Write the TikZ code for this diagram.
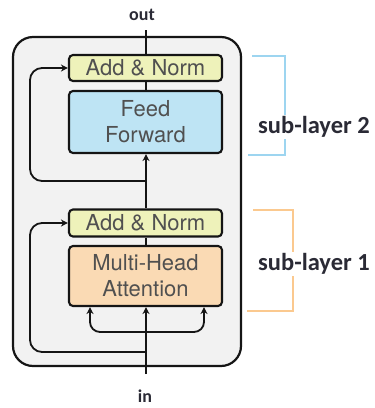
\documentclass[tikz,border=0pt]{standalone}
\usepackage{fontspec}
\setmainfont{TeX Gyre Heros}
\newfontfamily\labfont{Carlito}
\usetikzlibrary{arrows.meta}
\definecolor{bgray}{HTML}{F2F2F2}
\definecolor{anyellow}{HTML}{EEF2BA}
\definecolor{ffblue}{HTML}{BEE4F4}
\definecolor{mhapeach}{HTML}{FADAB4}
\definecolor{brblue}{HTML}{9DD5F0}
\definecolor{brorange}{HTML}{FBC98F}
\definecolor{boxtext}{HTML}{505050}
\definecolor{labtext}{HTML}{2A2A35}
\definecolor{linec}{HTML}{151515}
\tikzset{
  blk/.style={draw=linec, line width=2.1pt, rounded corners=4pt, minimum width=153pt,
    inner sep=0pt, align=center, text=boxtext, font=\fontsize{22}{26}\selectfont},
  conn/.style={draw=linec, line width=1.8pt},
  arr/.style={conn, -{Stealth[length=7pt,width=7pt]}},
  lab/.style={font=\labfont\bfseries\fontsize{24.5}{28}\selectfont, text=labtext, fill=white, inner sep=1pt},
  io/.style={font=\labfont\bfseries\fontsize{18}{20}\selectfont, text=labtext, inner sep=0pt}
}
\begin{document}
\begin{tikzpicture}[x=1pt,y=-1pt]
\useasboundingbox (0,0) rectangle (375,408);
% outer box
\draw[fill=bgray, draw=linec, line width=2.2pt, rounded corners=20pt] (13,37) rectangle (241,366);
% blocks
\node[blk, fill=anyellow, minimum height=26pt] (an2) at (145.5,68) {Add \& Norm};
\node[blk, fill=ffblue, minimum height=62pt] (ff) at (145.5,122) {Feed\\Forward};
\node[blk, fill=anyellow, minimum height=27pt] (an1) at (145.5,223) {Add \& Norm};
\node[blk, fill=mhapeach, minimum height=60pt] (mha) at (145.5,276) {Multi-Head\\Attention};
% in / out
\node[io] (out) at (142,15) {out};
\node[io] (in) at (145,396) {in};
\coordinate (top) at (146,30);
\coordinate (bot) at (146,374);
\coordinate (s2) at (146,181);
\coordinate (s1) at (146,352);
\coordinate (br) at (146,332);
% main path
\draw[arr] (bot) -- (mha.south -| bot);
\draw[conn] (mha.north -| bot) -- (an1.south -| bot);
\draw[arr] (an1.north -| bot) -- (ff.south -| bot);
\draw[conn] (ff.north -| bot) -- (an2.south -| bot);
\draw[conn] (an2.north -| bot) -- (top);
% skips
\draw[arr, rounded corners=12pt] (s2) -- (30,181) -- (30,68) -- (an2.west);
\draw[arr, rounded corners=12pt] (s1) -- (30,352) -- (30,223) -- (an1.west);
% branches
\draw[arr, rounded corners=10pt] (br) -- (90,332) -- (90,306) -- (mha.south -| 90,0);
\draw[arr, rounded corners=10pt] (br) -- (204,332) -- (204,306) -- (mha.south -| 204,0);
% brackets
\draw[brblue, line width=1.3pt] (252,56) -- (285,56) -- (285,155) -- (248,155);
\draw[brorange, line width=1.3pt] (253,210) -- (293,210) -- (293,311) -- (247,311);
\node[lab] (l2) at (314,127) {sub-layer 2};
\node[lab] (l1) at (314,264) {sub-layer 1};
\end{tikzpicture}
\end{document}
